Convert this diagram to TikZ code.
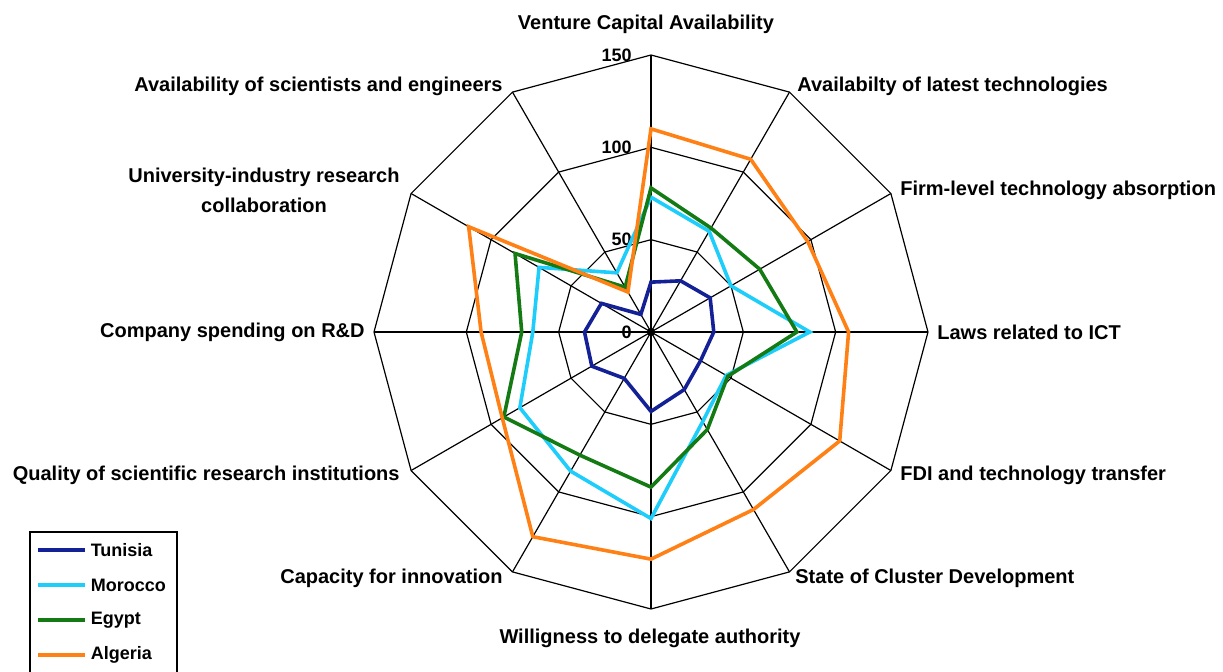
\documentclass[tikz,border=0pt]{standalone}
\usepackage{fontspec}
\setmainfont{Liberation Sans}
\usetikzlibrary{positioning}
\definecolor{tunisia}{RGB}{20,32,150}
\definecolor{morocco}{RGB}{30,205,250}
\definecolor{egypt}{RGB}{20,122,20}
\definecolor{algeria}{RGB}{255,128,20}
\def\unitr{1.8467}
\newcommand{\radar}[3]{\draw[series,#1] (90:{#2*\unitr}) \foreach \v [count=\i] in {#3} {-- ({90-30*\i}:{\v*\unitr})} -- cycle;}

\begin{document}
\begin{tikzpicture}[x=0.5pt,y=0.5pt,font=\bfseries\fontsize{10}{12}\selectfont,
  grid/.style={black,line width=0.6pt},
  series/.style={line width=1.8pt,line join=miter},
  lab/.style={inner sep=0pt},
  tick/.style={inner sep=0pt,anchor=east,font=\bfseries\fontsize{9}{10}\selectfont}]
  \useasboundingbox (-651,-339) rectangle (572,332);

  % web
  \foreach \i in {0,...,11}
    \coordinate (v\i) at ({90-30*\i}:{150*\unitr});
  \foreach \r in {50,100,150}
    \draw[grid] (90:{\r*\unitr}) \foreach \a in {60,30,...,-240} {-- (\a:{\r*\unitr})} -- cycle;
  \foreach \i in {0,...,11}
    \draw[grid] (0,0) -- (v\i);
  \foreach \t in {0,50,100,150}
    \node[tick] (t\t) at (-19,{\t*\unitr}) {\t};

  % series
  \radar{tunisia}{27}{32,37,34,31,36,43,29,37,36,31,11}
  \radar{morocco}{73}{63,50,86,47,56,101,87,82,64,70,37}
  \radar{egypt}{78}{65,68,79,48,61,84,77,92,70,85,28}
  \radar{algeria}{110}{108,98,107,118,111,123,128,93,92,114,25}
  \fill (0,0) circle (4);

  % axis labels
  \node[lab] (vca) at (-5,308) {Venture Capital Availability};
  \node[lab,anchor=west] (alt) at (146,246) {Availabilty of latest technologies};
  \node[lab,anchor=west] (fta) at (249,142) {Firm-level technology absorption};
  \node[lab,anchor=west] (law) at (286,0) {Laws related to ICT};
  \node[lab,anchor=west] (fdi) at (249,-143) {FDI and technology transfer};
  \node[lab,anchor=west] (scd) at (144,-246) {State of Cluster Development};
  \node[lab] (wda) at (-1,-306) {Willigness to delegate authority};
  \node[lab,anchor=east] (cfi) at (-148,-246) {Capacity for innovation};
  \node[lab,anchor=east] (qsr) at (-251,-143) {Quality of scientific research institutions};
  \node[lab,anchor=east] (crd) at (-286,0) {Company spending on R\&D};
  \node[lab,align=center] (uir) at (-387,142) {University-industry research\\[3pt]collaboration};
  \node[lab,anchor=east] (ase) at (-148,246) {Availability of scientists and engineers};

  % legend
  \draw[line width=0.75pt] (-621,-200) rectangle (-474,-360);
  \foreach \c/\n [count=\i] in {tunisia/Tunisia,morocco/Morocco,egypt/Egypt,algeria/Algeria}
    \draw[series,\c] (-613,{-183-35*\i}) -- ++(47,0)
      node[right=2pt,inner sep=0pt,black,font=\bfseries\fontsize{9}{10}\selectfont] (leg\i) {\n};
\end{tikzpicture}
\end{document}
